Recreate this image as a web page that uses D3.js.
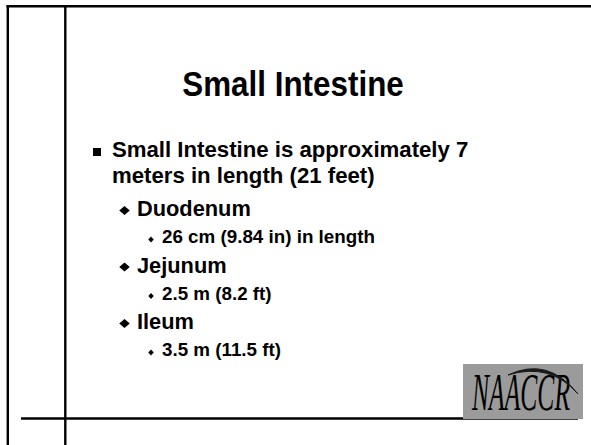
<!DOCTYPE html>
<html lang="en">
<head>
    <meta charset="UTF-8">
    <title>Small Intestine</title>
    <script src="https://d3js.org/d3.v7.min.js"></script>
    <style>
        body { margin: 0; background: #fff; }
        svg { display: block; }
        text { font-family: "Liberation Sans", Arial, sans-serif; font-weight: bold; fill: #000; }
    </style>
</head>
<body>
    <div id="slide"></div>

    <script>
        const width = 591;
        const height = 445;

        // slide content
        const title = "Small Intestine";
        const bulletText = [
            "Small Intestine is approximately 7|meters in length (21 feet)",
            "Duodenum",
            "26 cm (9.84 in) in length",
            "Jejunum",
            "2.5 m (8.2 ft)",
            "Ileum",
            "3.5 m (11.5 ft)"
        ];
        const bulletLevel = [1, 2, 3, 2, 3, 2, 3];
        const logoText = "NAACCR";

        // per-level styling
        const textX = d3.scaleOrdinal().domain([1, 2, 3]).range([112, 137, 162]);
        const markX = d3.scaleOrdinal().domain([1, 2, 3]).range([97, 124.5, 151]);
        const markDy = d3.scaleOrdinal().domain([1, 2, 3]).range([5, 5.5, 3.5]);
        const fontSize = d3.scaleOrdinal().domain([1, 2, 3]).range([22.2, 21.8, 18.8]);
        const markSize = d3.scaleOrdinal().domain([1, 2, 3]).range([8, 10.5, 5.5]);
        const lineHeight = d3.scaleOrdinal().domain([1, 2, 3]).range([26, 28, 26]);
        const gapBefore = { "1-2": 33, "2-3": 27, "3-2": 29.5 };

        const svg = d3.select("#slide").append("svg")
            .attr("width", width)
            .attr("height", height);

        // frame lines
        const frame = svg.append("g").attr("stroke", "#000").attr("stroke-width", 2.4);
        frame.append("line").attr("x1", 6.5).attr("x2", width).attr("y1", 6.2).attr("y2", 6.2);
        frame.append("line").attr("x1", 7.8).attr("x2", 7.8).attr("y1", 5).attr("y2", height);
        frame.append("line").attr("x1", 65.3).attr("x2", 65.3).attr("y1", 5).attr("y2", height);

        // logo
        const logo = svg.append("g");
        logo.append("rect")
            .attr("x", 463).attr("y", 364).attr("width", 120).attr("height", 55)
            .attr("fill", "#9b9b9b");
        logo.append("text")
            .attr("x", 472).attr("y", 410)
            .attr("textLength", 98).attr("lengthAdjust", "spacingAndGlyphs")
            .style("font-family", "'Liberation Serif', 'Times New Roman', serif")
            .style("font-style", "italic").style("font-weight", "normal")
            .style("font-size", "52px")
            .attr("fill", "#1a1a1a")
            .text(logoText);
        logo.append("path")
            .attr("d", "M508,375 Q548,356 578,394 Q550,362 508,375 Z")
            .attr("fill", "#1a1a1a").attr("stroke", "#1a1a1a").attr("stroke-width", 1);

        frame.append("line").attr("x1", 21).attr("x2", 578).attr("y1", 418.5).attr("y2", 418.5);

        // title
        svg.append("text")
            .attr("x", 293).attr("y", 96)
            .attr("text-anchor", "middle")
            .attr("transform", "translate(0,96) scale(1,1.12) translate(0,-96)")
            .style("font-size", "31.4px")
            .text(title);

        // bullets
        let y = 157;
        let prev = null;
        bulletText.forEach((t, i) => {
            const lvl = bulletLevel[i];
            if (prev !== null) y += gapBefore[prev + "-" + lvl];
            const fs = fontSize(lvl);
            const s = markSize(lvl);
            const cy = y - markDy(lvl);
            if (lvl === 1) {
                svg.append("rect")
                    .attr("x", markX(lvl) - s / 2).attr("y", cy - s / 2)
                    .attr("width", s).attr("height", s).attr("fill", "#000");
            } else {
                const mx = markX(lvl);
                const h = lvl === 2 ? s * 0.88 : s * 1.1;
                svg.append("path")
                    .attr("d", `M${mx - s / 2},${cy} L${mx},${cy - h / 2} L${mx + s / 2},${cy} L${mx},${cy + h / 2} Z`)
                    .attr("fill", "#000");
            }
            const lines = t.split("|");
            lines.forEach((ln, j) => {
                svg.append("text")
                    .attr("x", textX(lvl)).attr("y", y + j * lineHeight(lvl))
                    .style("font-size", fs + "px")
                    .text(ln);
            });
            y += (lines.length - 1) * lineHeight(lvl);
            prev = lvl;
        });
    </script>
</body>
</html>
